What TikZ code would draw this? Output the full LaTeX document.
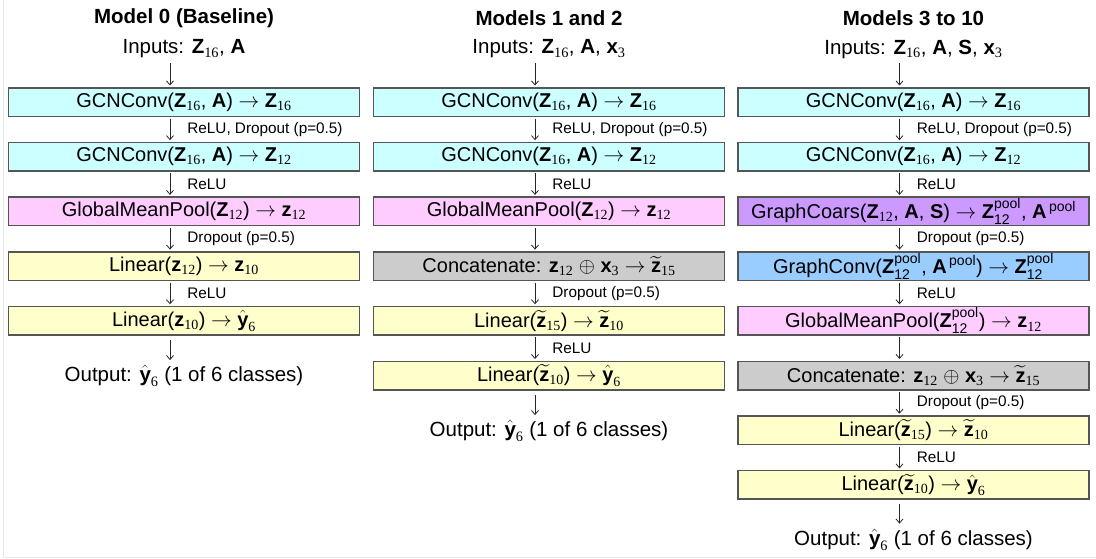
\documentclass[tikz,border=0pt]{standalone}
\usepackage{fontspec}
\usepackage{amsmath}
\setmainfont{Liberation Sans}
\newfontfamily\serifsub{Liberation Serif}
\usetikzlibrary{arrows.meta}
\definecolor{cCyan}{HTML}{CCFFFF}
\definecolor{cPink}{HTML}{FFCCFF}
\definecolor{cYellow}{HTML}{FFFFCC}
\definecolor{cGray}{HTML}{CCCCCC}
\definecolor{cPurple}{HTML}{CC99FF}
\definecolor{cBlue}{HTML}{99CCFF}
\definecolor{cBorder}{HTML}{555555}
\definecolor{cFrame}{HTML}{E6E6E6}
\newcommand\sbs[1]{_{\text{\serifsub #1}}}
\newcommand\bZ[1]{\textbf{Z}$\sbs{#1}$}
\newcommand\bz[1]{\textbf{z}$\sbs{#1}$}
\newcommand\tz[1]{$\widetilde{\text{\textbf{z}}}\sbs{#1}$}
\newcommand\yhat{$\hat{\text{\textbf{y}}}\sbs{6}$}
\newcommand\Zp{\textbf{Z}$^{\text{pool}}_{\text{12}}$}
\newcommand\Ap{\textbf{A}$^{\,\text{pool}}$}
\newcommand\myra{$\rightarrow$}
\newcommand\xthree{\textbf{x}$\sbs{3}$}
\tikzset{
  box/.style={draw=cBorder, line width=1.5pt, minimum width=351pt, minimum height=28.5pt,
    inner sep=0pt, font=\fontsize{20}{22}\selectfont},
  ttl/.style={font=\fontsize{20.5}{24}\selectfont\bfseries, inner sep=1pt},
  txt/.style={font=\fontsize{20.5}{22}\selectfont, inner sep=2pt},
  lbl/.style={font=\fontsize{15.3}{17}\selectfont, inner sep=0pt},
  arr/.style={-{Straight Barb[length=4pt,width=7pt]}, line width=0.8pt, draw=black!85,
    shorten >=1.5pt, shorten <=1.5pt},
}
\newcommand\conn[3]{\draw[arr] ([xshift=-14pt]#1.south) -- node[lbl,right=17pt]{#3} ([xshift=-14pt]#2.north);}
\begin{document}
\begin{tikzpicture}[x=1pt,y=-1pt]
\useasboundingbox (0,0) rectangle (1096,558);
\draw[cFrame, line width=1pt] (3,0) -- (3,557) -- (1096,557);
% ---------- Column 1 ----------
\node[ttl] (t1) at (184,18) {Model 0 (Baseline)};
\node[txt] (i1) at (184,49) {Inputs: \bZ{16}, \textbf{A}};
\node[box, fill=cCyan] (a1) at (184,102) {GCNConv(\bZ{16}, \textbf{A}) \myra{} \bZ{16}};
\node[box, fill=cCyan] (a2) at (184,156.7) {GCNConv(\bZ{16}, \textbf{A}) \myra{} \bZ{12}};
\node[box, fill=cPink] (a3) at (184,211.4) {GlobalMeanPool(\bZ{12}) \myra{} \bz{12}};
\node[box, fill=cYellow] (a4) at (184,266.1) {Linear(\bz{12}) \myra{} \bz{10}};
\node[box, fill=cYellow] (a5) at (184,320.8) {Linear(\bz{10}) \myra{} \yhat};
\node[txt] (o1) at (184,376) {Output: \yhat{} (1 of 6 classes)};
\draw[arr, shorten <=3pt] ([xshift=-14pt]i1.south) -- ([xshift=-14pt]a1.north);
\conn{a1}{a2}{ReLU, Dropout (p=0.5)}
\conn{a2}{a3}{ReLU}
\conn{a3}{a4}{Dropout (p=0.5)}
\conn{a4}{a5}{ReLU}
\draw[arr, shorten <=4pt, shorten >=3pt] ([xshift=-14pt]a5.south) -- ([xshift=-14pt]o1.north);
% ---------- Column 2 ----------
\node[ttl] (t2) at (549,18) {Models 1 and 2};
\node[txt] (i2) at (549,49) {Inputs: \bZ{16}, \textbf{A}, \xthree};
\node[box, fill=cCyan] (b1) at (549,102) {GCNConv(\bZ{16}, \textbf{A}) \myra{} \bZ{16}};
\node[box, fill=cCyan] (b2) at (549,156.7) {GCNConv(\bZ{16}, \textbf{A}) \myra{} \bZ{12}};
\node[box, fill=cPink] (b3) at (549,211.4) {GlobalMeanPool(\bZ{12}) \myra{} \bz{12}};
\node[box, fill=cGray] (b4) at (549,266.1) {Concatenate: \bz{12} $\oplus$ \xthree{} \myra{} \tz{15}};
\node[box, fill=cYellow] (b5) at (549,320.8) {Linear(\tz{15}) \myra{} \tz{10}};
\node[box, fill=cYellow] (b6) at (549,375.5) {Linear(\tz{10}) \myra{} \yhat};
\node[txt] (o2) at (549,431) {Output: \yhat{} (1 of 6 classes)};
\draw[arr, shorten <=3pt] ([xshift=-14pt]i2.south) -- ([xshift=-14pt]b1.north);
\conn{b1}{b2}{ReLU, Dropout (p=0.5)}
\conn{b2}{b3}{ReLU}
\conn{b3}{b4}{}
\conn{b4}{b5}{Dropout (p=0.5)}
\conn{b5}{b6}{ReLU}
\draw[arr, shorten <=4pt, shorten >=3pt] ([xshift=-14pt]b6.south) -- ([xshift=-14pt]o2.north);
% ---------- Column 3 ----------
\node[ttl] (t3) at (913.5,18) {Models 3 to 10};
\node[txt] (i3) at (913.5,49) {Inputs: \bZ{16}, \textbf{A}, \textbf{S}, \xthree};
\node[box, fill=cCyan] (c1) at (913.5,102) {GCNConv(\bZ{16}, \textbf{A}) \myra{} \bZ{16}};
\node[box, fill=cCyan] (c2) at (913.5,156.7) {GCNConv(\bZ{16}, \textbf{A}) \myra{} \bZ{12}};
\node[box, fill=cPurple] (c3) at (913.5,211.4) {GraphCoars(\bZ{12}, \textbf{A}, \textbf{S}) \myra{} \Zp, \Ap};
\node[box, fill=cBlue] (c4) at (913.5,266.1) {GraphConv(\Zp, \Ap) \myra{} \Zp};
\node[box, fill=cPink] (c5) at (913.5,320.8) {GlobalMeanPool(\Zp) \myra{} \bz{12}};
\node[box, fill=cGray] (c6) at (913.5,375.5) {Concatenate: \bz{12} $\oplus$ \xthree{} \myra{} \tz{15}};
\node[box, fill=cYellow] (c7) at (913.5,430.2) {Linear(\tz{15}) \myra{} \tz{10}};
\node[box, fill=cYellow] (c8) at (913.5,484.9) {Linear(\tz{10}) \myra{} \yhat};
\node[txt] (o3) at (913.5,539.5) {Output: \yhat{} (1 of 6 classes)};
\draw[arr, shorten <=3pt] ([xshift=-14pt]i3.south) -- ([xshift=-14pt]c1.north);
\conn{c1}{c2}{ReLU, Dropout (p=0.5)}
\conn{c2}{c3}{ReLU}
\conn{c3}{c4}{Dropout (p=0.5)}
\conn{c4}{c5}{ReLU}
\conn{c5}{c6}{}
\conn{c6}{c7}{Dropout (p=0.5)}
\conn{c7}{c8}{ReLU}
\draw[arr, shorten <=4pt, shorten >=3pt] ([xshift=-14pt]c8.south) -- ([xshift=-14pt]o3.north);
\end{tikzpicture}
\end{document}
